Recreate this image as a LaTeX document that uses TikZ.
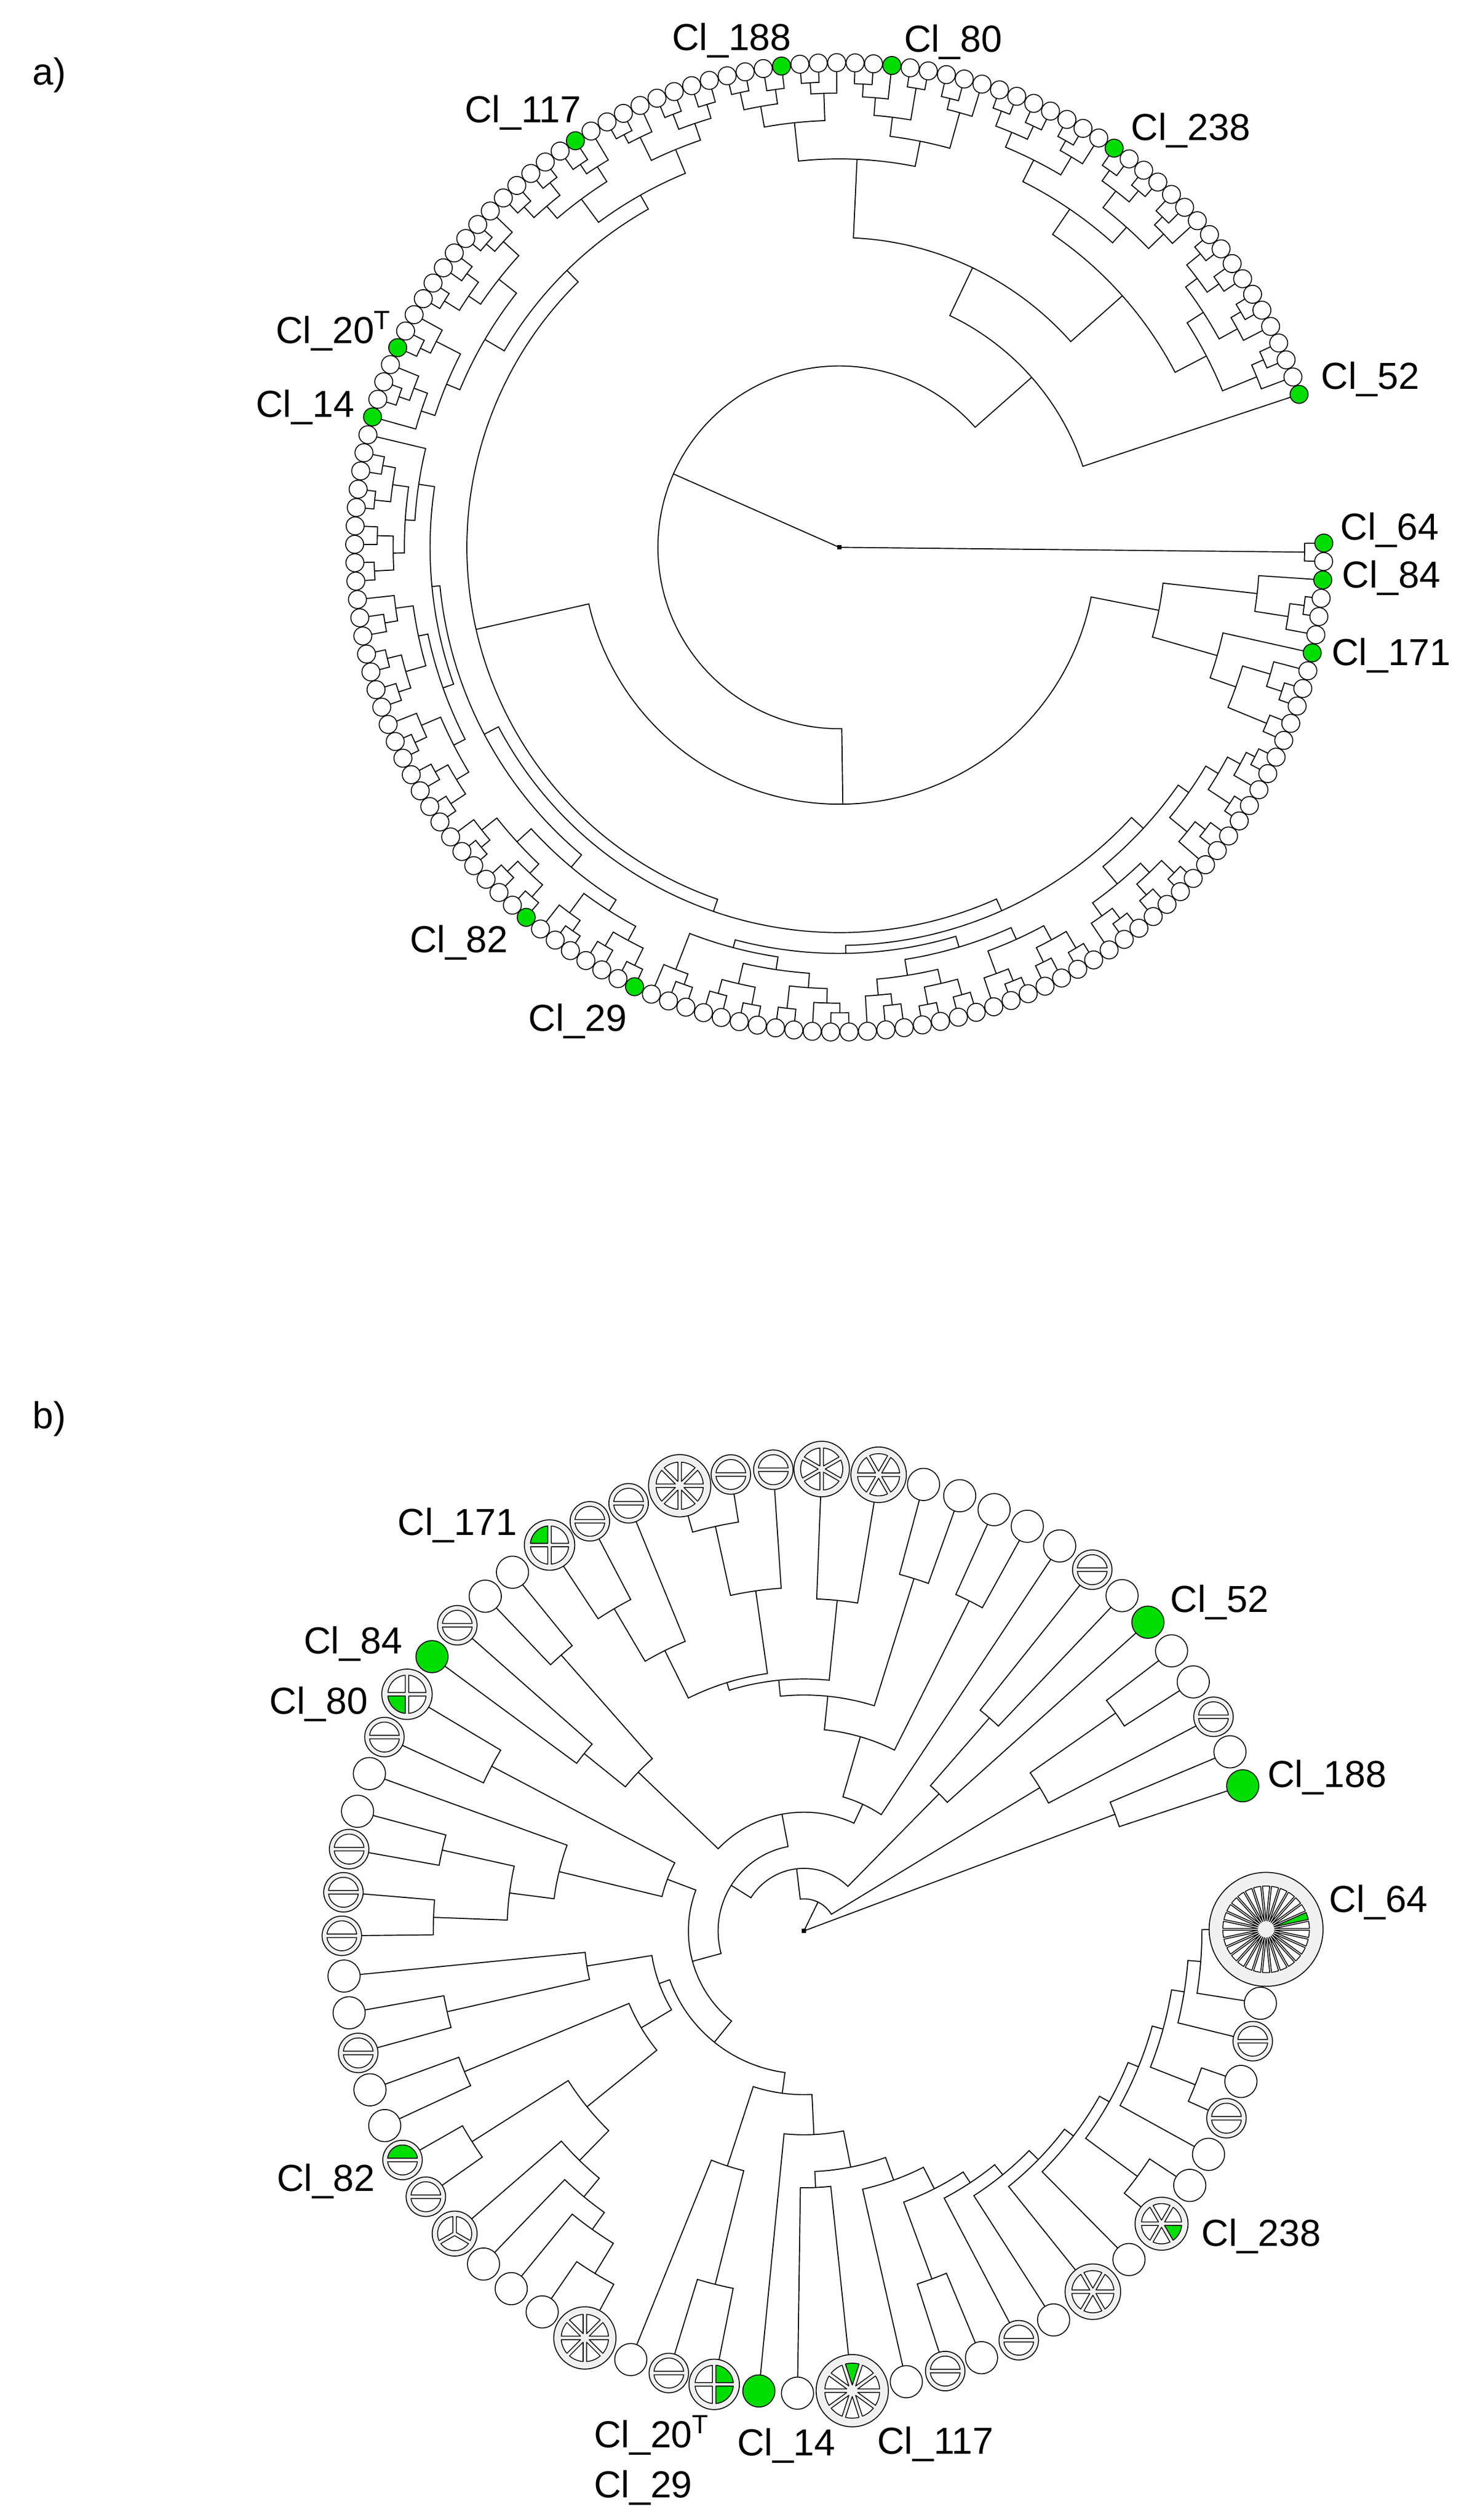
\documentclass[tikz,border=0pt]{standalone}
\usepackage{fontspec}
\newfontfamily\labelfont{Liberation Sans}
\definecolor{leafgreen}{RGB}{0,221,0}
\definecolor{ringgray}{RGB}{240,240,240}

% one bracket of a circular tree: name, first child, second child, radius
\newcommand\clade[4]{%
  \edef\cla{\csname ta@#2\endcsname}%
  \edef\clb{\csname ta@#3\endcsname}%
  \edef\rla{\csname tr@#2\endcsname}%
  \edef\rlb{\csname tr@#3\endcsname}%
  \draw[branch] (\cla:\rla) -- (\cla:#4) arc[start angle=\cla, end angle=\clb, radius=#4] -- (\clb:\rlb);%
  \pgfmathsetmacro\clm{(\cla+\clb)/2}%
  \expandafter\xdef\csname ta@#1\endcsname{\clm}%
  \expandafter\xdef\csname tr@#1\endcsname{#4}}
\newcommand\rootline[1]{%
  \draw[branch] (0,0) -- (\csname ta@#1\endcsname:\csname tr@#1\endcsname);}
% one slice of a pie leaf: slice, slices, start angle, radius, colour
\newcommand\wedgeseg[5]{%
  \pgfmathsetmacro\wsa{#3+(#1-1)*360/#2}%
  \pgfmathsetmacro\wea{\wsa+360/#2}%
  \pgfmathsetmacro\wmd{(\wsa+\wea)/2}%
  \pgfmathsetmacro\wg{#2>20 ? 0.55 : 1.1}%
  \pgfmathsetmacro\wrr{0.76*#4}%
  \pgfmathsetmacro\wdd{\wg/sin(180/#2)}%
  \pgfmathsetmacro\wdl{asin(\wg/\wrr)}%
  \filldraw[wedge, fill=#5] (\wmd:\wdd) -- (\wsa+\wdl:\wrr) arc[start angle=\wsa+\wdl, end angle=\wea-\wdl, radius=\wrr] -- cycle;}

\begin{document}
\begin{tikzpicture}[x=0.03cm, y=0.03cm,
  branch/.style={line width=0.55pt},
  aleaf/.style={circle, draw, line width=0.5pt, fill=white, inner sep=0pt, minimum size=0.336cm},
  greenleaf/.style={fill=leafgreen},
  bleaf/.style={circle, draw, line width=0.5pt, fill=white, inner sep=0pt},
  bring/.style={circle, draw, line width=0.5pt, fill=ringgray, inner sep=0pt},
  wedge/.style={draw, line width=0.45pt, line join=round},
  lab/.style={font=\labelfont\fontsize{20}{24}\selectfont, inner sep=0pt},
  ag0/.style=greenleaf, ag2/.style=greenleaf, ag6/.style=greenleaf,
  ag53/.style=greenleaf, ag60/.style=greenleaf, ag90/.style=greenleaf,
  ag94/.style=greenleaf, ag109/.style=greenleaf, ag121/.style=greenleaf,
  ag127/.style=greenleaf, ag140/.style=greenleaf, ag157/.style=greenleaf,
  bc0/.style=greenleaf]
\useasboundingbox (0,0) rectangle (912,-1570);

\node[lab, anchor=base west] (pa) at (20,-53) {a)};
\node[lab, anchor=base west] (pb) at (20,-890) {b)};

%% tree a
\begin{scope}[shift={(523,-341)}]
\foreach \k in {0,...,157}{%
  \pgfmathsetmacro\la{0.5-2.179*\k}%
  \expandafter\xdef\csname ta@\k\endcsname{\la}%
  \expandafter\xdef\csname tr@\k\endcsname{296.4}}
\clade{A}{0}{1}{290}
% right
\clade{ra1}{3}{4}{292}
\clade{ra2}{ra1}{5}{283}
\clade{ra3}{2}{ra2}{262}
\clade{ra4}{8}{9}{290}
\clade{ra5}{7}{ra4}{280}
\clade{ra6}{10}{11}{288}
\clade{ra7}{ra5}{ra6}{262}
\clade{ra8}{6}{ra7}{245}
\clade{Bb}{ra3}{ra8}{203}
% lower right
\clade{b1}{12}{13}{290}
\clade{b2}{b1}{14}{284}
\clade{b3}{15}{16}{291}
\clade{b4}{b2}{b3}{275}
\clade{b5}{17}{18}{288}
\clade{b6}{b5}{19}{280}
\clade{b7}{b4}{b6}{266}
\clade{b8}{20}{21}{291}
\clade{b9}{22}{23}{289}
\clade{b10}{b8}{b9}{280}
\clade{b11}{24}{25}{290}
\clade{b12}{b11}{26}{282}
\clade{b13}{b10}{b12}{272}
\clade{b14}{b7}{b13}{258}
\clade{b15}{27}{28}{290}
\clade{b16}{29}{30}{288}
\clade{b17}{b15}{b16}{278}
\clade{b18}{31}{32}{291}
\clade{b19}{b18}{33}{283}
\clade{b20}{b17}{b19}{268}
\clade{b21}{34}{35}{289}
\clade{b22}{36}{37}{290}
\clade{b23}{b21}{b22}{279}
\clade{b24}{38}{39}{287}
\clade{b25}{b24}{40}{280}
\clade{b26}{b23}{b25}{270}
\clade{b27}{b20}{b26}{260}
\clade{b28}{41}{42}{290}
\clade{b29}{b28}{43}{284}
\clade{b30}{44}{45}{289}
\clade{b31}{b29}{b30}{275}
\clade{b32}{46}{47}{290}
\clade{b33}{48}{49}{288}
\clade{b34}{b32}{b33}{279}
\clade{b35}{b31}{b34}{266}
\clade{b36}{50}{51}{289}
\clade{b37}{b36}{52}{282}
\clade{b38}{b35}{b37}{258}
\clade{b39}{b27}{b38}{253}
\clade{b40}{b14}{b39}{248}
% bottom and left
\clade{c1}{53}{54}{290}
\clade{c2}{55}{56}{288}
\clade{c3}{c1}{c2}{278}
\clade{c4}{57}{58}{291}
\clade{c5}{c4}{59}{283}
\clade{c6}{c3}{c5}{268}
\clade{c7}{60}{61}{290}
\clade{c8}{62}{63}{289}
\clade{c9}{c7}{c8}{280}
\clade{c10}{64}{65}{291}
\clade{c11}{c10}{66}{284}
\clade{c12}{c9}{c11}{272}
\clade{c13}{c6}{c12}{260}
\clade{c14}{67}{68}{290}
\clade{c15}{69}{70}{288}
\clade{c16}{c14}{c15}{279}
\clade{c17}{71}{72}{291}
\clade{c18}{c17}{73}{283}
\clade{c19}{c16}{c18}{270}
\clade{c20}{74}{75}{289}
\clade{c21}{76}{77}{290}
\clade{c22}{c20}{c21}{281}
\clade{c23}{78}{79}{287}
\clade{c24}{c23}{80}{279}
\clade{c25}{c22}{c24}{268}
\clade{c26}{c19}{c25}{262}
\clade{c27}{81}{82}{290}
\clade{c28}{83}{84}{288}
\clade{c29}{c27}{c28}{278}
\clade{c30}{85}{86}{291}
\clade{c31}{87}{88}{289}
\clade{c32}{c30}{c31}{281}
\clade{c33}{c29}{c32}{271}
\clade{c34}{c33}{89}{265}
\clade{c35}{c26}{c34}{255}
\clade{c36}{c13}{c35}{250}
% upper left
\clade{d1}{91}{92}{290}
\clade{d2}{d1}{93}{283}
\clade{d3}{90}{d2}{274}
\clade{d4}{94}{95}{289}
\clade{d5}{d4}{96}{282}
\clade{d6}{d3}{d5}{265}
\clade{d7}{97}{98}{290}
\clade{d8}{99}{100}{288}
\clade{d9}{d7}{d8}{279}
\clade{d10}{101}{102}{290}
\clade{d11}{d10}{103}{283}
\clade{d12}{d9}{d11}{270}
\clade{d13}{d6}{d12}{256}
\clade{d14}{104}{105}{289}
\clade{d15}{106}{107}{290}
\clade{d16}{d14}{d15}{280}
\clade{d17}{108}{109}{288}
\clade{d18}{d17}{110}{281}
\clade{d19}{d16}{d18}{270}
\clade{d20}{111}{112}{290}
\clade{d21}{d20}{113}{284}
\clade{d22}{114}{115}{289}
\clade{d23}{116}{117}{288}
\clade{d24}{d22}{d23}{279}
\clade{d25}{d21}{d24}{268}
\clade{d26}{d19}{d25}{252}
\clade{d27}{d13}{d26}{242}
\clade{Ea}{b40}{c36}{240}
\clade{Ba}{Ea}{d27}{232}
\clade{Bt}{Bb}{Ba}{160}
% top
\clade{e1}{118}{119}{290}
\clade{e2}{120}{121}{288}
\clade{e3}{e1}{e2}{279}
\clade{e4}{122}{123}{290}
\clade{e5}{e4}{124}{283}
\clade{e6}{e3}{e5}{266}
\clade{e7}{125}{126}{289}
\clade{e8}{e7}{127}{281}
\clade{e9}{128}{129}{290}
\clade{e10}{e8}{e9}{270}
\clade{e11}{130}{131}{288}
\clade{e12}{e11}{132}{281}
\clade{e13}{e10}{e12}{258}
\clade{e14}{e6}{e13}{242}
\clade{e15}{133}{134}{290}
\clade{e16}{135}{136}{289}
\clade{e17}{e15}{e16}{280}
\clade{e18}{137}{138}{290}
\clade{e19}{e18}{139}{283}
\clade{e20}{e17}{e19}{270}
\clade{e21}{140}{141}{289}
\clade{e22}{142}{143}{290}
\clade{e23}{e21}{e22}{281}
\clade{e24}{144}{145}{288}
\clade{e25}{e24}{146}{281}
\clade{e26}{e23}{e25}{268}
\clade{e27}{e20}{e26}{255}
\clade{e28}{147}{148}{290}
\clade{e29}{149}{150}{288}
\clade{e30}{e28}{e29}{279}
\clade{e31}{151}{152}{290}
\clade{e32}{e31}{153}{283}
\clade{e33}{e30}{e32}{270}
\clade{e34}{154}{155}{289}
\clade{e35}{e34}{156}{281}
\clade{e36}{e33}{e35}{258}
\clade{e37}{e27}{e36}{236}
\clade{Bc}{e14}{e37}{193}
\clade{Bd}{Bc}{157}{160}
\clade{B}{Bt}{Bd}{113}
\rootline{A}
\rootline{B}
\fill (-1.3,-1.3) rectangle (1.3,1.3);
\foreach \k in {0,...,157}
  \node[aleaf, ag\k/.try] (a\k) at ({0.5-2.179*\k}:302) {};
\end{scope}

\node[lab, anchor=base] (ta188) at (456,-31.4) {Cl\_188};
\node[lab, anchor=base] (ta80) at (594,-32.4) {Cl\_80};
\node[lab, anchor=base] (ta117) at (326,-76.4) {Cl\_117};
\node[lab, anchor=base] (ta238) at (742,-87.4) {Cl\_238};
\node[lab, anchor=base] (ta52) at (854,-242.4) {Cl\_52};
\node[lab, anchor=base] (ta64) at (866,-336.4) {Cl\_64};
\node[lab, anchor=base] (ta84) at (867,-366.4) {Cl\_84};
\node[lab, anchor=base] (ta171) at (867,-414.4) {Cl\_171};
\node[lab, anchor=base east] (ta20) at (244,-214) {Cl\_20\textsuperscript{T}};
\node[lab, anchor=base east] (ta14) at (221,-260) {Cl\_14};
\node[lab, anchor=base] (ta82) at (286,-593.4) {Cl\_82};
\node[lab, anchor=base] (ta29) at (360,-642.4) {Cl\_29};

%% tree b
\def\bleaves{1/18.3/1/10/0/0/-1, 2/22.8/1/10/0/-1/-1, 3/27.6/2/12.3/0/-1/-1,
  4/32.6/1/10/0/-1/-1, 5/37.3/1/10/0/-1/-1, 6/41.9/1/10/0/0/-1,
  7/46.5/1/10/0/-1/-1, 8/51.4/2/12.3/0/-1/-1, 9/56.4/1/10/0/-1/-1,
  10/61.1/1/10/0/-1/-1, 11/65.7/1/10/0/-1/-1, 12/70.3/1/10/0/-1/-1,
  13/75.0/1/10/0/-1/-1, 14/80.7/6/17.3/0/-1/-1, 15/87.8/6/17.3/30/-1/-1,
  16/93.8/2/12.3/0/-1/-1, 17/99.1/2/12.3/0/-1/-1, 18/105.6/8/19.4/0/-1/-1,
  19/112.3/2/12.3/0/-1/-1, 20/117.6/2/12.3/0/-1/-1, 21/123.4/4/15.7/0/2/-1,
  22/129.1/1/10/0/-1/-1, 23/133.6/1/10/0/-1/-1, 24/138.6/2/12.3/0/-1/-1,
  25/143.6/1/10/0/0/-1, 26/149.2/4/15.7/0/3/-1, 27/155.2/2/12.3/0/-1/-1,
  28/160.1/1/10/0/-1/-1, 29/165.0/1/10/0/-1/-1, 30/169.8/2/12.3/0/-1/-1,
  31/175.2/2/12.3/0/-1/-1, 32/180.6/2/12.3/0/-1/-1, 33/185.6/1/10/0/-1/-1,
  34/190.2/1/10/0/-1/-1, 35/195.3/2/12.3/0/-1/-1, 36/200.1/1/10/0/-1/-1,
  37/204.9/1/10/0/-1/-1, 38/209.7/2/12.3/0/1/-1, 39/215.1/2/12.3/0/-1/-1,
  40/220.9/3/14/90/-1/-1, 41/226.1/1/10/0/-1/-1, 42/230.7/1/10/0/-1/-1,
  43/235.5/1/10/0/-1/-1, 44/241.7/8/19.4/0/-1/-1, 45/248.0/1/10/0/-1/-1,
  46/253.0/2/12.3/0/-1/-1, 47/258.8/4/15.7/0/1/4, 48/264.4/1/10/0/0/-1,
  49/269.2/1/10/0/-1/-1, 50/276.0/10/22.5/0/3/-1, 51/282.8/1/10/0/-1/-1,
  52/287.8/2/12.3/0/-1/-1, 53/292.6/1/10/0/-1/-1, 54/297.7/2/12.3/0/-1/-1,
  55/302.7/1/10/0/-1/-1, 56/308.7/6/17.3/0/-1/-1, 57/314.7/1/10/0/-1/-1,
  58/320.7/6/16.5/0/6/-1, 59/326.6/1/10/0/-1/-1, 60/331.1/1/10/0/-1/-1,
  61/336.1/2/12.3/0/-1/-1, 62/341.0/1/10/0/-1/-1, 63/346.2/2/12.3/0/-1/-1,
  64/351.0/1/10/0/-1/-1, 65/360.2/30/35.5/0/2/-1}
\begin{scope}[shift={(501,-1203)}]
\foreach \i/\a/\n/\r/\s/\ga/\gb in \bleaves {%
  \pgfmathsetmacro\lr{288-\r}%
  \expandafter\xdef\csname ta@q\i\endcsname{\a}%
  \expandafter\xdef\csname tr@q\i\endcsname{\lr}}
\clade{nP}{q1}{q2}{207}
\clade{nX3}{q4}{q5}{237}
\clade{nX2}{q3}{nX3}{172}
\clade{nY1}{q7}{q8}{176}
\clade{nY}{q6}{nY1}{120}
\clade{n1011}{q10}{q11}{230}
\clade{n1213}{q12}{q13}{230}
\clade{n1415}{q14}{q15}{207}
\clade{n1718}{q17}{q18}{258}
\clade{nW}{q16}{n1718}{214}
\clade{n2021}{q20}{q21}{233}
\clade{nQ4}{q19}{n2021}{195}
\clade{nQ3}{nW}{nQ4}{162}
\clade{nQ2}{n1415}{nQ3}{157}
\clade{nQ1}{n1213}{nQ2}{147}
\clade{nZ1}{n1011}{nQ1}{126}
\clade{nN6}{nZ1}{q9}{87}
\clade{n2223}{q22}{q23}{229}
\clade{n2425}{q24}{q25}{176}
\clade{nN7}{n2223}{n2425}{143}
\clade{nN4}{nN6}{nN7}{74}
\clade{n2627}{q26}{q27}{220}
\clade{n2930}{q29}{q30}{231}
\clade{n3132}{q31}{q32}{231}
\clade{nR172}{n2930}{n3132}{185}
\clade{nR166}{q28}{nR172}{157}
\clade{nR159}{n2627}{nR166}{91}
\clade{n3435}{q34}{q35}{228}
\clade{nR189}{q33}{n3435}{137}
\clade{n3637}{q36}{q37}{229}
\clade{n3839}{q38}{q39}{245}
\clade{n4344}{q43}{q44}{250}
\clade{nR238}{q42}{n4344}{228}
\clade{nR233}{q41}{nR238}{215}
\clade{nR226}{q40}{nR233}{200}
\clade{nR219}{n3839}{nR226}{174}
\clade{nR208}{n3637}{nR219}{118}
\clade{nR198}{nR189}{nR208}{96}
\clade{n4647}{q46}{q47}{227}
\clade{nR252}{q45}{n4647}{154}
\clade{n4950}{q49}{q50}{160}
\clade{n6465}{q64}{q65}{248}
\clade{nL9}{q63}{n6465}{240}
\clade{n6162}{q61}{q62}{262}
\clade{nL8}{n6162}{nL9}{232}
\clade{nL7}{q60}{nL8}{225}
\clade{n5859}{q58}{q59}{258}
\clade{nL6}{n5859}{nL7}{218}
\clade{nL5}{q57}{nL6}{211}
\clade{nL4}{q56}{nL5}{204}
\clade{nL3}{q55}{nL4}{196}
\clade{nL2}{q54}{nL3}{188}
\clade{n5253}{q52}{q53}{231}
\clade{nL1}{n5253}{nL2}{180}
\clade{nR288}{q51}{nL1}{165}
\clade{nR281}{n4950}{nR288}{150}
\clade{nR273}{q48}{nR281}{127}
\clade{nR262}{nR252}{nR273}{102}
\clade{nR230}{nR198}{nR262}{89}
\clade{nN5}{nR159}{nR230}{72}
\clade{nN3}{nN4}{nN5}{53.5}
\clade{nN2}{nY}{nN3}{39}
\clade{nN1}{nX2}{nN2}{20}
\rootline{nP}
\rootline{nN1}
\fill (-1.3,-1.3) rectangle (1.3,1.3);
\foreach \i/\a/\n/\r/\s/\ga/\gb in \bleaves {%
  \ifnum\n=1
    \node[bleaf, minimum size=\r*0.06cm, bc\ga/.try] (q\i) at (\a:288) {};
  \else
    \node[bring, minimum size=\r*0.06cm] (q\i) at (\a:288) {};
    \begin{scope}[shift={(\a:288)}]
      \foreach \j in {1,...,\n} {\wedgeseg{\j}{\n}{\s}{\r}{white}}
      \ifnum\ga>0 \wedgeseg{\ga}{\n}{\s}{\r}{leafgreen}\fi
      \ifnum\gb>0 \wedgeseg{\gb}{\n}{\s}{\r}{leafgreen}\fi
    \end{scope}
  \fi}
\end{scope}

\node[lab, anchor=base] (tb171) at (285,-956.4) {Cl\_171};
\node[lab, anchor=base] (tb84) at (220,-1030.4) {Cl\_84};
\node[lab, anchor=base east] (tb80) at (229.5,-1068) {Cl\_80};
\node[lab, anchor=base east] (tb82) at (234,-1365) {Cl\_82};
\node[lab, anchor=base west] (tb20) at (370,-1525) {Cl\_20\textsuperscript{T}};
\node[lab, anchor=base west] (tb29) at (370,-1556) {Cl\_29};
\node[lab, anchor=base] (tb14) at (490,-1530) {Cl\_14};
\node[lab, anchor=base] (tb117) at (583,-1529) {Cl\_117};
\node[lab, anchor=base] (tb238) at (786,-1399.4) {Cl\_238};
\node[lab, anchor=base] (tb64) at (859,-1191.4) {Cl\_64};
\node[lab, anchor=base] (tb52) at (760,-1004.4) {Cl\_52};
\node[lab, anchor=base] (tb188) at (827,-1113.4) {Cl\_188};
\end{tikzpicture}
\end{document}
